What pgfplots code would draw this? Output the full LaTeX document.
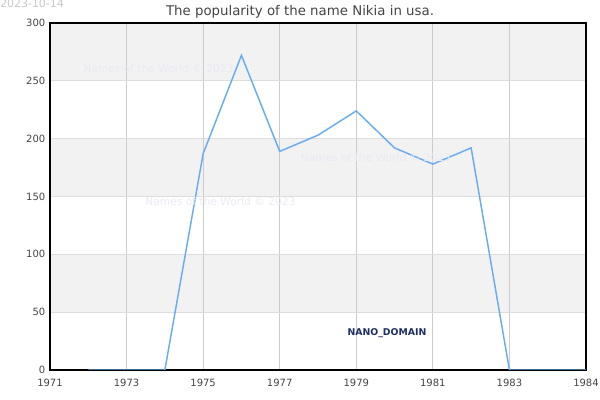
\documentclass[border=0pt]{standalone}
\usepackage{fontspec}
\setmainfont{DejaVu Sans}
\usepackage{pgfplots}
\pgfplotsset{compat=1.18}

\definecolor{lineblue}{RGB}{104,172,242}
\definecolor{band}{RGB}{242,242,242}
\definecolor{vgrid}{RGB}{204,204,204}
\definecolor{hgrid}{RGB}{221,221,221}
\definecolor{ticktext}{RGB}{68,68,68}
\definecolor{wmark}{RGB}{234,234,246}
\definecolor{nano}{RGB}{28,44,100}

\begin{document}
\begin{tikzpicture}
  % page is 600 x 400 px, 1px = 0.75pt
  \begin{axis}[
    set layers,
    scale only axis,
    width=402pt, height=260.25pt,
    at={(37.5pt,22.5pt)}, anchor=south west,
    xmin=1971, xmax=1985,
    ymin=0, ymax=300,
    xtick={1971,1973,1975,1977,1979,1981,1983,1985},
    xticklabels={1971,1973,1975,1977,1979,1981,1983,1984},
    ytick={0,50,100,150,200,250,300},
    major tick length=0pt,
    xmajorgrids, ymajorgrids,
    x grid style={vgrid, line width=0.75pt},
    y grid style={hgrid, line width=0.75pt},
    axis line style={black, line width=0.9pt},
    tick label style={font=\fontsize{7.5pt}{9pt}\selectfont, text=ticktext, overlay},
    xticklabel style={yshift=-3pt},
    /pgf/number format/assume math mode=true,
    title={The popularity of the name Nikia in usa.},
    title style={font=\fontsize{10pt}{12pt}\selectfont, text=ticktext,
      xshift=-13.5pt, yshift=-6pt, overlay},
  ]
    % shaded bands
    \addplot[on layer=axis background, draw=none, fill=band] coordinates {(1971,250) (1985,250) (1985,300) (1971,300)} -- cycle;
    \addplot[on layer=axis background, draw=none, fill=band] coordinates {(1971,150) (1985,150) (1985,200) (1971,200)} -- cycle;
    \addplot[on layer=axis background, draw=none, fill=band] coordinates {(1971,50) (1985,50) (1985,100) (1971,100)} -- cycle;
    \addplot[lineblue, line width=1.1pt, mark=none] coordinates {
      (1972,0) (1973,0) (1974,0) (1975,187) (1976,272) (1977,189)
      (1978,203) (1979,224) (1980,192) (1981,178) (1982,192)
      (1983,0) (1984,0) (1985,0)
    };
  \end{axis}
  % watermarks and stamps
  \node[anchor=west, text=wmark, font=\fontsize{8pt}{9pt}\selectfont, overlay] at (59pt,248.25pt) {Names of the World © 2023};
  \node[anchor=west, text=wmark, font=\fontsize{8pt}{9pt}\selectfont, overlay] at (105.5pt,148.5pt) {Names of the World © 2023};
  \node[anchor=west, text=wmark, font=\fontsize{8pt}{9pt}\selectfont, overlay] at (222pt,181.5pt) {Names of the World © 2023};
  \node[text=nano, font=\bfseries\fontsize{7pt}{8pt}\selectfont, overlay] at (290.25pt,50.25pt) {NANO\_DOMAIN};
  \node[anchor=west, text=black!22, font=\fontsize{8.2pt}{9pt}\selectfont, inner sep=0pt, overlay] at (0pt,297pt) {2023-10-14};
  \path (0,0) rectangle (450pt,300pt);
\end{tikzpicture}
\end{document}
